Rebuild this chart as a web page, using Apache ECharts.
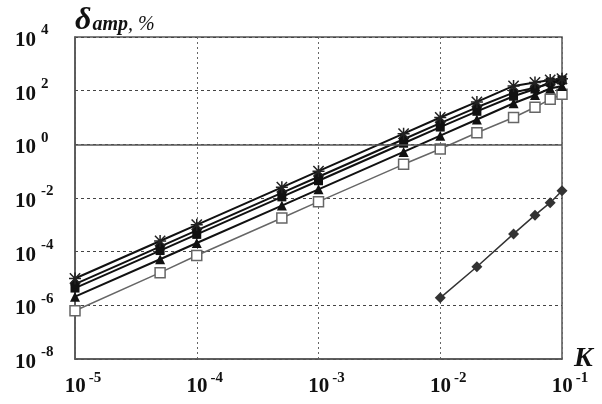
<!DOCTYPE html>
<html><head><meta charset="utf-8">
<script src="https://cdn.jsdelivr.net/npm/echarts@6/dist/echarts.min.js"></script>
<style>html,body{margin:0;padding:0;background:#fff}#c{width:602px;height:404px}</style>
</head><body><div id="c"></div>
<script>
// Data
const kMain = [1e-5, 5e-5, 1e-4, 5e-4, 1e-3, 5e-3, 1e-2, 2e-2, 4e-2, 6e-2, 8e-2, 1e-1];
const starVals   = [1.0e-5, 2.5e-4, 1.0e-3, 2.5e-2, 0.10, 2.5, 10, 38, 150, 200, 250, 280];
const circleVals = [6.2e-6, 1.55e-4, 6.2e-4, 1.55e-2, 6.2e-2, 1.55, 6.2, 24, 85, 130, 180, 230];
const squareVals = [4.4e-6, 1.1e-4, 4.4e-4, 1.1e-2, 4.4e-2, 1.1, 4.4, 17, 62, 115, 210, 250];
const triVals    = [2.1e-6, 5.2e-5, 2.1e-4, 5.2e-3, 2.1e-2, 0.52, 2.1, 8.4, 34, 69, 120, 150];
const openVals   = [6.3e-7, 1.65e-5, 7.2e-5, 1.8e-3, 7.3e-3, 0.18, 0.67, 2.7, 10, 24, 48, 73];
const kDiamond   = [1e-2, 2e-2, 4e-2, 6e-2, 8e-2, 1e-1];
const diamondVals = [1.9e-6, 2.75e-5, 4.6e-4, 2.3e-3, 6.7e-3, 1.87e-2];
const xExponents = [-5, -4, -3, -2, -1];
const yExponents = [-8, -6, -4, -2, 0, 2, 4];

const pair = (xs, ys) => xs.map((x, i) => [x, ys[i]]);
const FONT = '"Liberation Serif", "DejaVu Serif", serif';
const expOf = v => Math.round(Math.log10(v));
const powLabel = v => '{b|10}{s|' + expOf(v) + '}';

const chart = echarts.init(document.getElementById('c'));
const starPath = 'path://M-6,-7 L6,7 M-6,7 L6,-7 M0,-8 L0,8 M-7,0 L7,0';

function lineSeries(name, data, symbol, size, color, lw, fill, border) {
  return {
    name, type: 'line', data, symbol, symbolSize: size,
    lineStyle: { color, width: lw },
    itemStyle: { color: fill, borderColor: border || fill, borderWidth: border ? 1.5 : 0 },
    emphasis: { disabled: true }, z: 3
  };
}

chart.setOption({
  animation: false,
  backgroundColor: '#fff',
  grid: { left: 75, right: 40, top: 37, bottom: 45, show: true, borderColor: '#555', borderWidth: 1.5,
          containLabel: false, outerBoundsMode: 'none' },
  xAxis: {
    type: 'log', logBase: 10, min: Math.pow(10, xExponents[0]), max: Math.pow(10, xExponents[xExponents.length - 1]),
    name: 'K', nameLocation: 'end', nameGap: 12, nameMoveOverlap: false,
    nameTextStyle: { fontFamily: FONT, fontStyle: 'italic', fontWeight: 'bold', fontSize: 28, color: '#111', align: 'left', verticalAlign: 'middle', padding: [0, 0, 6, 0] },
    axisLine: { show: true, lineStyle: { color: '#555', width: 1.5 } },
    axisTick: { show: false },
    minorTick: { show: false },
    splitLine: { show: true, lineStyle: { color: '#666', type: [2, 3], width: 1 } },
    axisLabel: {
      formatter: powLabel, margin: 12, padding: [0, 0, 0, 16], color: '#111',
      rich: {
        b: { fontFamily: FONT, fontWeight: 'bold', fontSize: 21, color: '#111', lineHeight: 26, verticalAlign: 'bottom' },
        s: { fontFamily: FONT, fontWeight: 'bold', fontSize: 15, color: '#111', lineHeight: 15, verticalAlign: 'top', padding: [0, 0, 0, 3] }
      }
    }
  },
  yAxis: {
    type: 'log', logBase: 10, min: Math.pow(10, yExponents[0]), max: Math.pow(10, yExponents[yExponents.length - 1]),
    interval: 2,
    name: '{d|δ}{s|amp}{c|, %}', nameLocation: 'end', nameGap: 2, nameMoveOverlap: false,
    nameTextStyle: {
      align: 'left', verticalAlign: 'bottom',
      rich: {
        d: { fontFamily: FONT, fontStyle: 'italic', fontWeight: 'bold', fontSize: 32, color: '#111', lineHeight: 30, verticalAlign: 'top' },
        s: { fontFamily: FONT, fontStyle: 'italic', fontWeight: 'bold', fontSize: 20, color: '#111', lineHeight: 20, verticalAlign: 'bottom', padding: [0, 0, 0, 1] },
        c: { fontFamily: FONT, fontStyle: 'italic', fontSize: 20, color: '#111', lineHeight: 22, verticalAlign: 'bottom' }
      }
    },
    axisLine: { show: true, lineStyle: { color: '#555', width: 1.5 } },
    axisTick: { show: false },
    minorTick: { show: false },
    splitLine: { show: true, lineStyle: { color: '#444', type: [3, 3], width: 1 } },
    axisLabel: {
      formatter: powLabel, margin: 60, align: 'left', color: '#111',
      rich: {
        b: { fontFamily: FONT, fontWeight: 'bold', fontSize: 21, color: '#111', lineHeight: 28, verticalAlign: 'bottom' },
        s: { fontFamily: FONT, fontWeight: 'bold', fontSize: 15, color: '#111', lineHeight: 15, verticalAlign: 'top', padding: [0, 0, 0, 5] }
      }
    }
  },
  series: [
    Object.assign(lineSeries('open', pair(kMain, openVals), 'rect', 10, '#666', 1.5, '#fff', '#666'), {
      markLine: { silent: true, symbol: 'none', label: { show: false }, lineStyle: { color: '#555', type: 'solid', width: 1.5 }, data: [{ yAxis: 1 }] }
    }),
    lineSeries('diamond', pair(kDiamond, diamondVals), 'diamond', 11, '#333', 1.5, '#333'),
    lineSeries('tri', pair(kMain, triVals), 'triangle', 10, '#111', 2, '#111'),
    lineSeries('square', pair(kMain, squareVals), 'rect', 9, '#111', 2, '#111'),
    lineSeries('circle', pair(kMain, circleVals), 'circle', 9, '#111', 2, '#111'),
    lineSeries('star', pair(kMain, starVals), starPath, 12, '#111', 2, 'none', '#222')
  ]
});
</script>
</body></html>
